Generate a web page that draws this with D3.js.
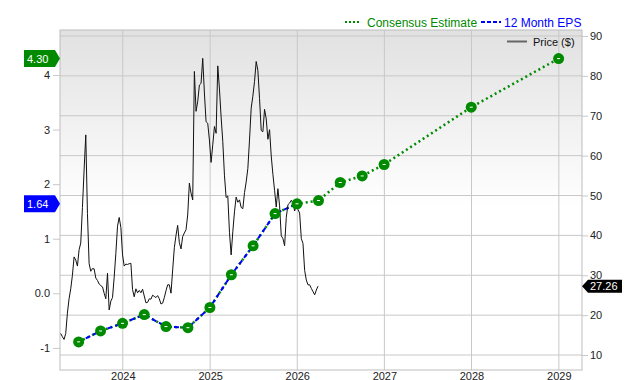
<!DOCTYPE html>
<html>
<head>
<meta charset="utf-8">
<script src="https://cdn.jsdelivr.net/npm/d3@7"></script>
<style>
    body {margin: 0; background: #fff;}
    text {font-family: "Liberation Sans", Arial, sans-serif;}
</style>
</head>
<body>
<svg id="chart"></svg>
<script>
// quarterly EPS history and consensus estimates
const epsDates = ["2023-06-30","2023-09-30","2023-12-31","2024-03-31","2024-06-30","2024-09-30",
    "2024-12-31","2025-03-31","2025-06-30","2025-09-30","2025-12-31"];
const epsValues = [-0.89,-0.69,-0.55,-0.39,-0.61,-0.63,-0.26,0.34,0.87,1.46,1.64];
const estDates = ["2025-12-31","2026-03-31","2026-06-30","2026-09-30","2026-12-31","2027-12-31","2028-12-31"];
const estValues = [1.64,1.70,2.03,2.15,2.36,3.41,4.30];

// weekly closing price
const priceStart = "2023-04-16";
const priceValues = [15.4,14.6,13.9,15.4,20.5,24.1,26.6,30.0,34.6,33.8,32.3,36.4,38.1,47.0,56.4,65.2,
    45.5,32.9,31.0,31.7,31.6,29.3,28.7,27.8,27.4,27.1,25.5,24.1,30.5,21.3,23.5,24.4,29.5,35.5,42.3,44.5,
    42.0,35.1,32.3,32.8,32.7,32.9,33.0,26.4,24.6,26.6,25.6,26.2,25.6,26.5,24.8,23.1,23.2,24.1,24.0,25.0,
    24.7,24.4,24.9,24.1,22.8,23.0,24.4,26.1,27.6,27.6,25.5,31.3,36.9,40.0,42.5,38.2,36.6,39.7,40.6,41.4,
    45.1,53.1,50.6,48.9,81.1,71.1,73.6,77.7,78.1,84.4,75.7,68.5,68.1,63.9,58.3,62.7,67.3,65.6,82.5,76.7,
    69.7,63.5,55.1,49.5,49.9,40.8,35.1,40.9,45.9,49.6,48.3,48.9,47.0,46.7,50.7,53.4,56.8,63.9,71.9,74.9,
    78.6,83.6,81.4,74.3,66.3,66.0,71.6,69.2,64.1,66.5,59.9,55.3,51.3,47.1,51.7,47.4,39.9,39.2,37.4,44.5,
    47.7,48.1,48.8,48.1,46.1,47.5,46.5,45.6,39.2,38.0,31.2,28.8,27.6,27.6,26.7,25.9,25.1,26.3,27.26];

const yearTicks = [2024,2025,2026,2027,2028,2029];
const epsTicks = [-1,0,1,2,3,4];
const priceTicks = [10,20,30,40,50,60,70,80,90];

let graphicopt = {
    width: 640,
    height: 380,
    margin: {top: 30, right: 58, bottom: 10, left: 60},
    widthG: function(){return this.width-this.margin.left-this.margin.right},
    heightG: function(){return this.height-this.margin.top-this.margin.bottom},
};

const parse = d3.timeParse("%Y-%m-%d");
const eps = epsDates.map((d,i)=>({date: parse(d), value: epsValues[i]}));
const est = estDates.map((d,i)=>({date: parse(d), value: estValues[i]}));
const consensus = eps.slice(0,-1).concat(est);
const price = priceValues.map((v,i)=>({date: d3.timeDay.offset(parse(priceStart), i*7), value: v}));

const x = d3.scaleTime()
    .domain([new Date(2023,3,13), new Date(2029,3,8)])
    .range([0, graphicopt.widthG()]);
const yEps = d3.scaleLinear()
    .domain([-1.405, 4.824])
    .range([graphicopt.heightG(), 0]);
const yPrice = d3.scaleLinear()
    .domain([6.24, 91.5])
    .range([graphicopt.heightG(), 0]);

const svg = d3.select("#chart")
    .attr("width", graphicopt.width)
    .attr("height", graphicopt.height);

const grad = svg.append("defs").append("linearGradient")
    .attr("id","bg").attr("x1",0).attr("y1",0).attr("x2",0).attr("y2",1);
grad.append("stop").attr("offset","0%").attr("stop-color","#e1e1e1");
grad.append("stop").attr("offset","52%").attr("stop-color","#ffffff");
grad.append("stop").attr("offset","100%").attr("stop-color","#ffffff");

const g = svg.append("g")
    .attr("transform", `translate(${graphicopt.margin.left},${graphicopt.margin.top})`);

g.append("rect")
    .attr("width", graphicopt.widthG())
    .attr("height", graphicopt.heightG())
    .attr("fill", "url(#bg)");

// grid
g.selectAll(".hgrid").data(priceTicks).enter().append("line")
    .attr("class","hgrid")
    .attr("x1",0).attr("x2",graphicopt.widthG())
    .attr("y1",d=>yPrice(d)).attr("y2",d=>yPrice(d))
    .attr("stroke","#c8c8c8");
g.selectAll(".vgrid").data(yearTicks).enter().append("line")
    .attr("class","vgrid")
    .attr("x1",d=>x(new Date(d,0,1))).attr("x2",d=>x(new Date(d,0,1)))
    .attr("y1",0).attr("y2",graphicopt.heightG())
    .attr("stroke","#c8c8c8");
g.append("rect")
    .attr("width", graphicopt.widthG())
    .attr("height", graphicopt.heightG())
    .attr("fill","none").attr("stroke","#bdbdbd");

// left axis (EPS)
const leftAxis = d3.axisLeft(yEps).tickValues(epsTicks).tickSize(7).tickPadding(3)
    .tickFormat(d=>d===0 ? "0.0" : d);
g.append("g").attr("class","axis left").call(leftAxis);

// right axis (price)
const rightAxis = d3.axisRight(yPrice).tickValues(priceTicks).tickSize(6).tickPadding(2);
g.append("g").attr("class","axis right")
    .attr("transform",`translate(${graphicopt.widthG()},0)`)
    .call(rightAxis);

// bottom axis (years)
const bottomAxis = d3.axisBottom(x)
    .tickValues(yearTicks.map(d=>new Date(d,0,1)))
    .tickSize(0).tickPadding(2)
    .tickFormat(d3.timeFormat("%Y"));
g.append("g").attr("class","axis bottom")
    .attr("transform",`translate(0,${graphicopt.heightG()})`)
    .call(bottomAxis);

svg.selectAll(".axis .domain").remove();
svg.selectAll(".axis line").attr("stroke","#c8c8c8");
svg.selectAll(".axis text").attr("fill","#222").style("font-size","11px")
    .style("font-family","'Liberation Sans', Arial, sans-serif");

// consensus (green dotted, runs under the history too)
const epsLine = d3.line().x(d=>x(d.date)).y(d=>yEps(d.value));
g.append("path").datum(consensus)
    .attr("d", epsLine)
    .attr("fill","none").attr("stroke","#008a00")
    .attr("stroke-width",2.5).attr("stroke-dasharray","2,3");
g.append("path").datum(eps)
    .attr("d", epsLine)
    .attr("fill","none").attr("stroke","#0000ff")
    .attr("stroke-width",2).attr("stroke-dasharray","5,3");

// price
const priceLine = d3.line().x(d=>x(d.date)).y(d=>yPrice(d.value));
g.append("path").datum(price)
    .attr("d", priceLine)
    .attr("fill","none").attr("stroke","#111")
    .attr("stroke-width",1);

// markers
const markers = g.selectAll(".marker").data(eps.concat(est.slice(1)))
    .enter().append("g")
    .attr("class","marker")
    .attr("transform",d=>`translate(${x(d.date)},${yEps(d.value)})`);
markers.append("circle").attr("r",5.5).attr("fill","#008a00");
markers.append("line").attr("x1",-1.5).attr("x2",1.5)
    .attr("stroke","#fff").attr("stroke-width",1);

// value tags
function tagLeft(val, color){
    const yy = graphicopt.margin.top + yEps(val);
    svg.append("path")
        .attr("d",`M24,${yy-8.5}H55L60,${yy}L55,${yy+8.5}H24Z`)
        .attr("fill",color);
    svg.append("text").attr("x",27).attr("y",yy+4)
        .attr("fill","#fff").style("font-size","11px")
        .text(val.toFixed(2));
}
tagLeft(estValues[estValues.length-1], "#008a00");
tagLeft(epsValues[epsValues.length-1], "#0000ff");

const lastPrice = priceValues[priceValues.length-1];
const py = graphicopt.margin.top + yPrice(lastPrice);
const rx = graphicopt.margin.left + graphicopt.widthG();
svg.append("path")
    .attr("d",`M${rx},${py}L${rx+6},${py-6.5}H622V${py+6.5}H${rx+6}Z`)
    .attr("fill","#000");
svg.append("text").attr("x",rx+8).attr("y",py+4)
    .attr("fill","#fff").style("font-size","11px")
    .text(lastPrice.toFixed(2));

// legend
const lg = svg.append("g").attr("class","legend");
lg.append("line").attr("x1",345).attr("x2",359).attr("y1",22).attr("y2",22)
    .attr("stroke","#008a00").attr("stroke-width",2).attr("stroke-dasharray","2,2");
lg.append("text").attr("x",367).attr("y",26.5).attr("fill","#008a00")
    .style("font-size","12px").text("Consensus Estimate");
lg.append("line").attr("x1",481).attr("x2",501).attr("y1",22).attr("y2",22)
    .attr("stroke","#0000ff").attr("stroke-width",2).attr("stroke-dasharray","4,2");
lg.append("text").attr("x",504).attr("y",26.5).attr("fill","#0000ff")
    .style("font-size","12px").text("12 Month EPS");
lg.append("line").attr("x1",507).attr("x2",527).attr("y1",41.5).attr("y2",41.5)
    .attr("stroke","#666").attr("stroke-width",2);
lg.append("text").attr("x",533).attr("y",45.5).attr("fill","#111")
    .style("font-size","11px").text("Price ($)");
</script>
</body>
</html>
